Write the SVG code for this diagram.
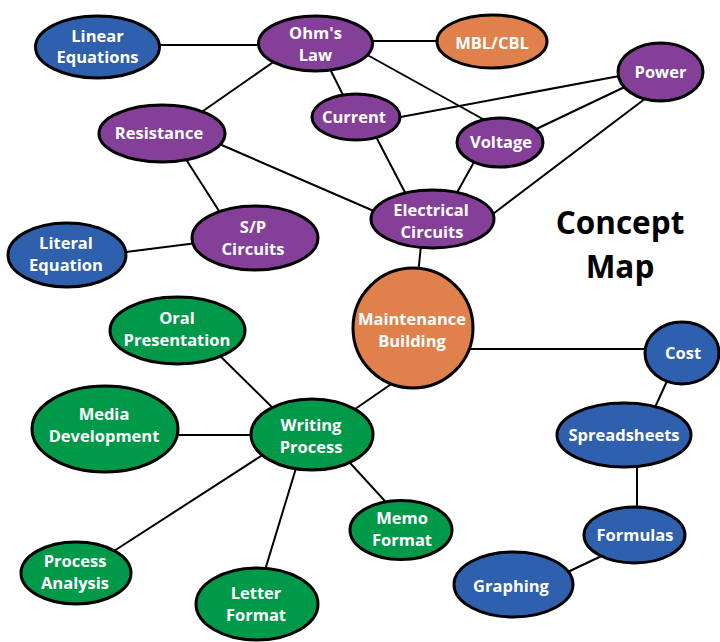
<svg xmlns="http://www.w3.org/2000/svg" width="720" height="642" viewBox="0 0 720 642">
<style>
.n{stroke:#000;stroke-width:3}
.b{fill:#2E60AD}
.p{fill:#843F99}
.o{fill:#E0804A}
.g{fill:#00994A}
.t{font-family:"Open Sans","Liberation Sans",sans-serif;font-weight:700;font-size:16.5px;fill:#fff;text-anchor:middle}
.c line{stroke:#000;stroke-width:2}
.title{font-family:"Open Sans","Liberation Sans",sans-serif;font-weight:700;font-size:31.5px;fill:#000;text-anchor:middle}
</style>
<rect width="720" height="642" fill="#fff"/>
<g class="c" id="connectors">
<line x1="150" y1="45" x2="268" y2="45"/>
<line x1="360" y1="41" x2="450" y2="41"/>
<line x1="282" y1="56" x2="193" y2="118"/>
<line x1="326" y1="61" x2="347" y2="103"/>
<line x1="362" y1="52" x2="490" y2="123"/>
<line x1="390" y1="119" x2="630" y2="74"/>
<line x1="530" y1="132" x2="633" y2="83"/>
<line x1="650" y1="95" x2="485" y2="220"/>
<line x1="373" y1="131" x2="410" y2="202"/>
<line x1="478" y1="155" x2="450" y2="205"/>
<line x1="210" y1="140" x2="390" y2="218"/>
<line x1="180" y1="150" x2="228" y2="225"/>
<line x1="205" y1="242" x2="110" y2="254"/>
<line x1="422" y1="235" x2="417" y2="285"/>
<line x1="460" y1="349" x2="655" y2="349"/>
<line x1="400" y1="378" x2="345" y2="416"/>
<line x1="672" y1="370" x2="652" y2="414"/>
<line x1="637" y1="455" x2="637" y2="520"/>
<line x1="610" y1="552" x2="555" y2="578"/>
<line x1="210" y1="346" x2="285" y2="420"/>
<line x1="170" y1="435" x2="265" y2="435"/>
<line x1="275" y1="447" x2="100" y2="560"/>
<line x1="300" y1="455" x2="262" y2="580"/>
<line x1="340" y1="452" x2="395" y2="512"/>
</g>
<g id="linear-equations"><ellipse class="n b" cx="97.5" cy="47" rx="62" ry="31"/><text class="t" x="97.5" y="42">Linear</text><text class="t" x="97.5" y="63">Equations</text></g>
<g id="ohms-law"><ellipse class="n p" cx="315.5" cy="43.5" rx="57" ry="27.5"/><text class="t" x="315.5" y="39">Ohm's</text><text class="t" x="315.5" y="61">Law</text></g>
<g id="mbl-cbl"><ellipse class="n o" cx="492" cy="41.5" rx="55" ry="26.5"/><text class="t" x="492" y="49">MBL/CBL</text></g>
<g id="power"><ellipse class="n p" cx="660.5" cy="72" rx="42.5" ry="29"/><text class="t" x="660.5" y="78">Power</text></g>
<g id="current"><ellipse class="n p" cx="356" cy="117" rx="44" ry="23"/><text class="t" x="354" y="123">Current</text></g>
<g id="voltage"><ellipse class="n p" cx="500" cy="142.5" rx="43" ry="24.5"/><text class="t" x="501" y="148">Voltage</text></g>
<g id="resistance"><ellipse class="n p" cx="162" cy="133.5" rx="63" ry="28.5"/><text class="t" x="159" y="139">Resistance</text></g>
<g id="electrical-circuits"><ellipse class="n p" cx="432.5" cy="219" rx="61.5" ry="29"/><text class="t" x="431" y="216">Electrical</text><text class="t" x="432" y="238">Circuits</text></g>
<g id="sp-circuits"><ellipse class="n p" cx="255" cy="238" rx="63" ry="32"/><text class="t" x="253" y="233">S/P</text><text class="t" x="253" y="255">Circuits</text></g>
<g id="literal-equation"><ellipse class="n b" cx="67" cy="255" rx="59" ry="32"/><text class="t" x="66" y="249">Literal</text><text class="t" x="66" y="271">Equation</text></g>
<g id="maintenance-building"><circle class="n o" cx="413" cy="328" r="60"/><text class="t" x="412" y="325">Maintenance</text><text class="t" x="412" y="347">Building</text></g>
<g id="cost"><ellipse class="n b" cx="682" cy="353" rx="37" ry="31"/><text class="t" x="683" y="359">Cost</text></g>
<g id="spreadsheets"><ellipse class="n b" cx="624" cy="435" rx="67" ry="32"/><text class="t" x="624" y="441">Spreadsheets</text></g>
<g id="formulas"><ellipse class="n b" cx="634.5" cy="535" rx="50.5" ry="28"/><text class="t" x="635" y="541">Formulas</text></g>
<g id="graphing"><ellipse class="n b" cx="513.5" cy="584.5" rx="59.5" ry="32.5"/><text class="t" x="511" y="592">Graphing</text></g>
<g id="memo-format"><ellipse class="n g" cx="401" cy="530" rx="51" ry="29.5"/><text class="t" x="402" y="524">Memo</text><text class="t" x="402" y="546">Format</text></g>
<g id="writing-process"><ellipse class="n g" cx="312" cy="434.5" rx="61" ry="35.5"/><text class="t" x="311" y="431">Writing</text><text class="t" x="311" y="453">Process</text></g>
<g id="oral-presentation"><ellipse class="n g" cx="177.5" cy="330.5" rx="67.5" ry="33.5"/><text class="t" x="177" y="324">Oral</text><text class="t" x="177" y="346">Presentation</text></g>
<g id="media-development"><ellipse class="n g" cx="105" cy="429" rx="73" ry="43"/><text class="t" x="104" y="420">Media</text><text class="t" x="104" y="442">Development</text></g>
<g id="process-analysis"><ellipse class="n g" cx="76" cy="573" rx="55" ry="31"/><text class="t" x="75" y="567">Process</text><text class="t" x="75" y="589">Analysis</text></g>
<g id="letter-format"><ellipse class="n g" cx="257" cy="604" rx="61" ry="36"/><text class="t" x="256" y="599">Letter</text><text class="t" x="256" y="621">Format</text></g>
<g id="title"><text class="title" x="620" y="234">Concept</text><text class="title" x="620" y="278">Map</text></g>
</svg>
